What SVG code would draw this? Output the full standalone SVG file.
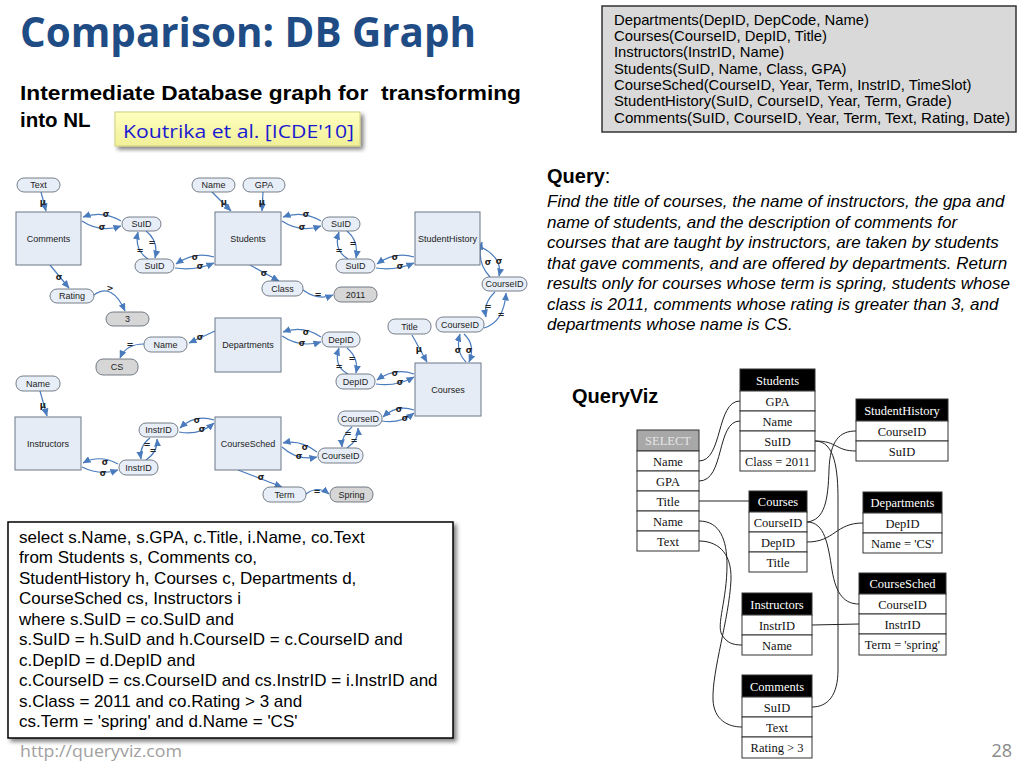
<svg xmlns="http://www.w3.org/2000/svg" width="1024" height="768" viewBox="0 0 1024 768">
<defs>
<marker id="ar" markerUnits="userSpaceOnUse" markerWidth="8" markerHeight="7" refX="7.5" refY="3.5" orient="auto"><path d="M0,0 L8,3.5 L0,7 z" fill="#4a7bbd"/></marker>
<filter id="sh" x="-10%" y="-10%" width="130%" height="130%"><feGaussianBlur in="SourceAlpha" stdDeviation="2"/><feOffset dx="3" dy="3"/><feComponentTransfer><feFuncA type="linear" slope="0.5"/></feComponentTransfer><feMerge><feMergeNode/><feMergeNode in="SourceGraphic"/></feMerge></filter>
<linearGradient id="yg" x1="0" y1="0" x2="0" y2="1"><stop offset="0" stop-color="#ffffc0"/><stop offset="1" stop-color="#f0f098"/></linearGradient>
<style>
.box{fill:#e5ecf6;stroke:#6b7787;stroke-width:1}
.pill{fill:#e8eef7;stroke:#55606c;stroke-width:0.8}
.gp{fill:#d6d6d6;stroke:#55606c;stroke-width:0.8}
.nt{font-family:"Liberation Sans",Arial,sans-serif;font-size:9px;fill:#222;text-anchor:middle}
.e{fill:none;stroke:#4a7bbd;stroke-width:1.2;marker-end:url(#ar)}
.lb{font-family:"DejaVu Sans","Liberation Sans",sans-serif;font-size:8.5px;font-weight:bold;fill:#222;text-anchor:middle}
.tb{fill:#fff;stroke:#333;stroke-width:1}
.th{fill:#000;stroke:#333;stroke-width:1}
.tt{font-family:"Liberation Serif","Times New Roman",serif;font-size:12.5px;fill:#111;text-anchor:middle}
.tw{font-family:"Liberation Serif","Times New Roman",serif;font-size:12.5px;fill:#fff;text-anchor:middle}
.qc{fill:none;stroke:#222;stroke-width:1}
.sans{font-family:"Liberation Sans",Arial,sans-serif}
</style>
</defs>
<rect width="1024" height="768" fill="#fff"/>

<g id="header">
<text x="20" y="47" font-family="Open Sans, Lato, sans-serif" font-weight="bold" font-size="42" fill="#1f4c85" textLength="456" lengthAdjust="spacingAndGlyphs">Comparison: DB Graph</text>
<text x="20" y="100" class="sans" font-weight="bold" font-size="20.5" fill="#000" textLength="501" lengthAdjust="spacingAndGlyphs" xml:space="preserve">Intermediate Database graph for  transforming</text>
<text x="20" y="127" class="sans" font-weight="bold" font-size="20.5" fill="#000">into NL</text>
</g>
<g id="citation">
<rect x="115" y="112" width="245" height="34" fill="url(#yg)" stroke="#d0d080" stroke-width="1" filter="url(#sh)"/>
<text x="123" y="138" font-family="Open Sans, Lato, sans-serif" font-size="19" fill="#1a1ad0" textLength="231" lengthAdjust="spacingAndGlyphs">Koutrika et al. [ICDE'10]</text>
</g>

<g id="schema">
<rect x="602" y="6" width="414" height="126" fill="#d9d9d9" stroke="#333" stroke-width="1.5"/>
<g class="sans" font-size="14.8" fill="#000">
<text x="614" y="25">Departments(DepID, DepCode, Name)</text>
<text x="614" y="41">Courses(CourseID, DepID, Title)</text>
<text x="614" y="57">Instructors(InstrID, Name)</text>
<text x="614" y="74">Students(SuID, Name, Class, GPA)</text>
<text x="614" y="90">CourseSched(CourseID, Year, Term, InstrID, TimeSlot)</text>
<text x="614" y="106">StudentHistory(SuID, CourseID, Year, Term, Grade)</text>
<text x="614" y="123" textLength="396" lengthAdjust="spacingAndGlyphs">Comments(SuID, CourseID, Year, Term, Text, Rating, Date)</text>
</g>
</g>

<g id="query">
<text x="547" y="183" class="sans" font-size="20" fill="#000"><tspan font-weight="bold">Query</tspan>:</text>
<g class="sans" font-size="17" font-style="italic" fill="#000">
<text x="547" y="207">Find the title of courses, the name of instructors, the gpa and</text>
<text x="547" y="228">name of students, and the description of comments for</text>
<text x="547" y="248">courses that are taught by instructors, are taken by students</text>
<text x="547" y="269">that gave comments, and are offered by departments. Return</text>
<text x="547" y="289">results only for courses whose term is spring, students whose</text>
<text x="547" y="310">class is 2011, comments whose rating is greater than 3, and</text>
<text x="547" y="330">departments whose name is CS.</text>
</g>
</g>

<!-- DB graph connectors -->
<g id="db-edges">
<path class="e" d="M41,192 L46,211"/>
<path class="e" d="M212,192 L231,211"/>
<path class="e" d="M263,192 L262,211"/>
<path class="e" d="M121,221 Q103,210 83,217"/>
<path class="e" d="M82,221 Q100,233 121,226"/>
<path class="e" d="M148,259 Q134,250 138,232"/>
<path class="e" d="M146,231 Q159,241 155,258"/>
<path class="e" d="M214,257 Q195,251 176,264"/>
<path class="e" d="M175,268 Q195,271 214,263"/>
<path class="e" d="M321,221 Q303,210 283,217"/>
<path class="e" d="M282,221 Q300,233 321,226"/>
<path class="e" d="M348,259 Q333,250 339,232"/>
<path class="e" d="M347,231 Q359,241 356,258"/>
<path class="e" d="M414,257 Q395,251 377,264"/>
<path class="e" d="M376,268 Q395,271 414,263"/>
<path class="e" d="M250,265 L279,281"/>
<path class="e" d="M303,290 Q318,301 333,295"/>
<path class="e" d="M50,265 L69,288"/>
<path class="e" d="M94,295 Q112,282 125,311"/>
<path class="e" d="M490,277 Q476,262 482,242"/>
<path class="e" d="M481,247 Q503,258 499,276"/>
<path class="e" d="M495,292 Q483,303 486,317"/>
<path class="e" d="M484,328 Q504,322 506,293"/>
<path class="e" d="M412,335 L427,362"/>
<path class="e" d="M466,362 Q455,351 460,334"/>
<path class="e" d="M464,334 Q476,345 469,362"/>
<path class="e" d="M321,337 Q303,325 283,332"/>
<path class="e" d="M282,336 Q300,348 321,342"/>
<path class="e" d="M348,374 Q333,366 339,348"/>
<path class="e" d="M347,348 Q359,358 356,373"/>
<path class="e" d="M414,374 Q395,367 377,380"/>
<path class="e" d="M376,384 Q396,387 414,377"/>
<path class="e" d="M215,331 L189,343"/>
<path class="e" d="M144,344 Q126,344 120,358"/>
<path class="e" d="M40,391 L47,416"/>
<path class="e" d="M414,410 Q397,404 383,417"/>
<path class="e" d="M382,421 Q400,424 414,413"/>
<path class="e" d="M352,427 Q341,436 342,447"/>
<path class="e" d="M347,448 Q359,440 358,428"/>
<path class="e" d="M317,452 Q300,439 283,443"/>
<path class="e" d="M282,447 Q297,461 317,457"/>
<path class="e" d="M238,470 L282,487"/>
<path class="e" d="M306,494 Q318,485 329,494"/>
<path class="e" d="M118,464 Q100,454 83,463"/>
<path class="e" d="M82,467 Q100,476 118,470"/>
<path class="e" d="M150,438 Q139,446 141,459"/>
<path class="e" d="M146,460 Q158,452 157,439"/>
<path class="e" d="M214,420 Q195,414 180,428"/>
<path class="e" d="M179,432 Q199,436 214,423"/>
</g>
<g id="db-edge-labels">
<text class="lb" x="43" y="205">μ</text>
<text class="lb" x="224" y="205">μ</text>
<text class="lb" x="262" y="205">μ</text>
<text class="lb" x="106" y="217">σ</text>
<text class="lb" x="102" y="230">σ</text>
<text class="lb" x="140" y="253">=</text>
<text class="lb" x="152" y="245">=</text>
<text class="lb" x="195" y="260">σ</text>
<text class="lb" x="200" y="269">σ</text>
<text class="lb" x="306" y="217">σ</text>
<text class="lb" x="302" y="230">σ</text>
<text class="lb" x="339" y="253">=</text>
<text class="lb" x="353" y="246">=</text>
<text class="lb" x="395" y="260">σ</text>
<text class="lb" x="400" y="269">σ</text>
<text class="lb" x="264" y="276">σ</text>
<text class="lb" x="318" y="297">=</text>
<text class="lb" x="59" y="280">σ</text>
<text class="lb" x="110" y="291">&gt;</text>
<text class="lb" x="488" y="265">σ</text>
<text class="lb" x="499" y="264">σ</text>
<text class="lb" x="488" y="309">=</text>
<text class="lb" x="501" y="317">=</text>
<text class="lb" x="419" y="352">μ</text>
<text class="lb" x="458" y="353">σ</text>
<text class="lb" x="469" y="353">σ</text>
<text class="lb" x="306" y="335">σ</text>
<text class="lb" x="302" y="346">σ</text>
<text class="lb" x="339" y="369">=</text>
<text class="lb" x="352" y="361">=</text>
<text class="lb" x="395" y="376">σ</text>
<text class="lb" x="400" y="385">σ</text>
<text class="lb" x="200" y="340">σ</text>
<text class="lb" x="130" y="347">=</text>
<text class="lb" x="43" y="408">μ</text>
<text class="lb" x="399" y="412">σ</text>
<text class="lb" x="405" y="421">σ</text>
<text class="lb" x="348" y="436">=</text>
<text class="lb" x="354" y="443">=</text>
<text class="lb" x="305" y="450">σ</text>
<text class="lb" x="299" y="459">σ</text>
<text class="lb" x="261" y="480">σ</text>
<text class="lb" x="317" y="494">=</text>
<text class="lb" x="105" y="465">σ</text>
<text class="lb" x="103" y="476">σ</text>
<text class="lb" x="147" y="447">=</text>
<text class="lb" x="153" y="453">=</text>
<text class="lb" x="197" y="423">σ</text>
<text class="lb" x="202" y="432">σ</text>
</g>

<!-- DB graph nodes -->
<g id="n-comments"><rect class="box" x="16" y="212" width="65" height="53"/><text class="nt" x="48.5" y="241.5">Comments</text></g>
<g id="n-students"><rect class="box" x="215" y="212" width="66" height="53"/><text class="nt" x="248" y="241.5">Students</text></g>
<g id="n-studenthistory"><rect class="box" x="415" y="212" width="65" height="53"/><text class="nt" x="447.5" y="241.5" font-size="8.5">StudentHistory</text></g>
<g id="n-departments"><rect class="box" x="215" y="318" width="66" height="54"/><text class="nt" x="248" y="348" font-size="8.5">Departments</text></g>
<g id="n-courses"><rect class="box" x="415" y="363" width="66" height="53"/><text class="nt" x="448" y="392.5">Courses</text></g>
<g id="n-instructors"><rect class="box" x="15" y="417" width="66" height="53"/><text class="nt" x="48" y="446.5">Instructors</text></g>
<g id="n-coursesched"><rect class="box" x="215" y="417" width="66" height="53"/><text class="nt" x="248" y="446.5" font-size="8.5">CourseSched</text></g>

<g id="p-text"><rect class="pill" x="17" y="178" width="43" height="14" rx="7"/><text class="nt" x="38.5" y="188">Text</text></g>
<g id="p-name-s"><rect class="pill" x="192" y="178" width="43" height="14" rx="7"/><text class="nt" x="213.5" y="188">Name</text></g>
<g id="p-gpa"><rect class="pill" x="243" y="178" width="42" height="14" rx="7"/><text class="nt" x="264" y="188">GPA</text></g>
<g id="p-suid1"><rect class="pill" x="122" y="217" width="39" height="14" rx="7"/><text class="nt" x="141.5" y="227">SuID</text></g>
<g id="p-suid2"><rect class="pill" x="135" y="259" width="39" height="14" rx="7"/><text class="nt" x="154.5" y="269">SuID</text></g>
<g id="p-suid3"><rect class="pill" x="322" y="217" width="38" height="14" rx="7"/><text class="nt" x="341" y="227">SuID</text></g>
<g id="p-suid4"><rect class="pill" x="336" y="259" width="39" height="14" rx="7"/><text class="nt" x="355.5" y="269">SuID</text></g>
<g id="p-class"><rect class="pill" x="262" y="281" width="41" height="15" rx="7"/><text class="nt" x="282.5" y="291.5">Class</text></g>
<g id="p-2011"><rect class="gp" x="334" y="287" width="43" height="15" rx="7"/><text class="nt" x="355.5" y="297.5">2011</text></g>
<g id="p-rating"><rect class="pill" x="50" y="289" width="44" height="14" rx="7"/><text class="nt" x="72" y="299">Rating</text></g>
<g id="p-3"><rect class="gp" x="106" y="312" width="43" height="14" rx="7"/><text class="nt" x="127.5" y="322">3</text></g>
<g id="p-courseid-r"><rect class="pill" x="482" y="277" width="45" height="14" rx="7"/><text class="nt" x="504.5" y="287" font-size="8.5">CourseID</text></g>
<g id="p-title"><rect class="pill" x="388" y="319" width="43" height="15" rx="7"/><text class="nt" x="409.5" y="329.5">Title</text></g>
<g id="p-courseid-u"><rect class="pill" x="436" y="317" width="48" height="15" rx="7"/><text class="nt" x="460" y="327.5" font-size="8.5">CourseID</text></g>
<g id="p-depid1"><rect class="pill" x="322" y="332" width="38" height="15" rx="7"/><text class="nt" x="341" y="342.5">DepID</text></g>
<g id="p-depid2"><rect class="pill" x="336" y="374" width="39" height="15" rx="7"/><text class="nt" x="355.5" y="384.5">DepID</text></g>
<g id="p-name-d"><rect class="pill" x="144" y="337" width="43" height="15" rx="7"/><text class="nt" x="165.5" y="347.5">Name</text></g>
<g id="p-cs"><rect class="gp" x="96" y="359" width="42" height="16" rx="7"/><text class="nt" x="117" y="370">CS</text></g>
<g id="p-name-i"><rect class="pill" x="16" y="376" width="44" height="15" rx="7"/><text class="nt" x="38" y="386.5">Name</text></g>
<g id="p-instrid1"><rect class="pill" x="139" y="423" width="39" height="14" rx="7"/><text class="nt" x="158.5" y="433">InstrID</text></g>
<g id="p-instrid2"><rect class="pill" x="119" y="460" width="39" height="15" rx="7"/><text class="nt" x="138.5" y="470.5">InstrID</text></g>
<g id="p-courseid-m"><rect class="pill" x="338" y="411" width="44" height="15" rx="7"/><text class="nt" x="360" y="421.5" font-size="8.5">CourseID</text></g>
<g id="p-courseid-l"><rect class="pill" x="318" y="448" width="45" height="15" rx="7"/><text class="nt" x="340.5" y="458.5" font-size="8.5">CourseID</text></g>
<g id="p-term"><rect class="pill" x="263" y="487" width="43" height="15" rx="7"/><text class="nt" x="284.5" y="497.5">Term</text></g>
<g id="p-spring"><rect class="gp" x="330" y="487" width="43" height="15" rx="7"/><text class="nt" x="351.5" y="497.5">Spring</text></g>

<g id="sql">
<rect x="8" y="522" width="445" height="216" fill="#fff" stroke="#000" stroke-width="1.5" filter="url(#sh)"/>
<g class="sans" font-size="17" fill="#000">
<text x="19" y="543">select s.Name, s.GPA, c.Title, i.Name, co.Text</text>
<text x="19" y="563">from Students s, Comments co,</text>
<text x="19" y="584">StudentHistory h, Courses c, Departments d,</text>
<text x="19" y="604">CourseSched cs, Instructors i</text>
<text x="19" y="625">where s.SuID = co.SuID and</text>
<text x="19" y="645">s.SuID = h.SuID and h.CourseID = c.CourseID and</text>
<text x="19" y="666">c.DepID = d.DepID and</text>
<text x="19" y="686">c.CourseID = cs.CourseID and cs.InstrID = i.InstrID and</text>
<text x="19" y="707">s.Class = 2011 and co.Rating &gt; 3 and</text>
<text x="19" y="727">cs.Term = 'spring' and d.Name = 'CS'</text>
</g>
</g>

<g id="footer">
<text x="20" y="757" font-family="Open Sans, Lato, sans-serif" font-size="16" fill="#a0a0a0" textLength="162" lengthAdjust="spacingAndGlyphs">http://queryviz.com</text>
<text x="1012" y="757" text-anchor="end" font-family="Open Sans, Lato, sans-serif" font-size="18" fill="#8a8a8a">28</text>
</g>

<text id="queryviz-title" x="572" y="403" class="sans" font-weight="bold" font-size="20" fill="#000">QueryViz</text>

<!-- QueryViz connectors -->
<g id="qv-edges">
<path class="qc" d="M699,461 C723,461 716,401 740,401"/>
<path class="qc" d="M699,481 C725,481 716,421 740,421"/>
<path class="qc" d="M699,501 L749,501"/>
<path class="qc" d="M699,521 C720,521 727,540 727,565 C727,600 716,625 722,635 C727,643 733,645 742,645"/>
<path class="qc" d="M699,541 C715,541 732,550 731,580 C729,620 712,670 713,700 C714,720 728,727 742,727"/>
<path class="qc" d="M815,441 C838,441 835,451 856,451"/>
<path class="qc" d="M815,441 C835,441 838,470 838,500 L838,670 C838,695 828,707 812,707"/>
<path class="qc" d="M807,522 C825,520 828,500 829,470 C830,440 840,431 856,431"/>
<path class="qc" d="M807,522 C825,522 828,545 832,570 C836,595 845,604 859,604"/>
<path class="qc" d="M807,542 C835,542 835,523 863,523"/>
<path class="qc" d="M812,625 L859,624"/>
</g>

<g id="t-select">
<rect x="637" y="430" width="62" height="21" fill="#a8a8a8" stroke="#333"/>
<text class="tw" x="668" y="445" style="fill:#e6e6e6">SELECT</text>
<rect class="tb" x="637" y="451" width="62" height="20"/><text class="tt" x="668" y="465.5">Name</text>
<rect class="tb" x="637" y="471" width="62" height="20"/><text class="tt" x="668" y="485.5">GPA</text>
<rect class="tb" x="637" y="491" width="62" height="20"/><text class="tt" x="668" y="505.5">Title</text>
<rect class="tb" x="637" y="511" width="62" height="20"/><text class="tt" x="668" y="525.5">Name</text>
<rect class="tb" x="637" y="531" width="62" height="20"/><text class="tt" x="668" y="545.5">Text</text>
</g>
<g id="t-students">
<rect class="th" x="740" y="369" width="75" height="22"/><text class="tw" x="777.5" y="384.5">Students</text>
<rect class="tb" x="740" y="391" width="75" height="20"/><text class="tt" x="777.5" y="405.5">GPA</text>
<rect class="tb" x="740" y="411" width="75" height="20"/><text class="tt" x="777.5" y="425.5">Name</text>
<rect class="tb" x="740" y="431" width="75" height="20"/><text class="tt" x="777.5" y="445.5">SuID</text>
<rect class="tb" x="740" y="451" width="75" height="20"/><text class="tt" x="777.5" y="465.5">Class = 2011</text>
</g>
<g id="t-studenthistory">
<rect class="th" x="856" y="399" width="92" height="22"/><text class="tw" x="902" y="414.5">StudentHistory</text>
<rect class="tb" x="856" y="421" width="92" height="20"/><text class="tt" x="902" y="435.5">CourseID</text>
<rect class="tb" x="856" y="441" width="92" height="20"/><text class="tt" x="902" y="455.5">SuID</text>
</g>
<g id="t-courses">
<rect class="th" x="749" y="491" width="58" height="21"/><text class="tw" x="778" y="506">Courses</text>
<rect class="tb" x="749" y="512" width="58" height="20"/><text class="tt" x="778" y="526.5">CourseID</text>
<rect class="tb" x="749" y="532" width="58" height="20"/><text class="tt" x="778" y="546.5">DepID</text>
<rect class="tb" x="749" y="552" width="58" height="20"/><text class="tt" x="778" y="566.5">Title</text>
</g>
<g id="t-departments">
<rect class="th" x="863" y="492" width="79" height="21"/><text class="tw" x="902.5" y="507">Departments</text>
<rect class="tb" x="863" y="513" width="79" height="20"/><text class="tt" x="902.5" y="527.5">DepID</text>
<rect class="tb" x="863" y="533" width="79" height="20"/><text class="tt" x="902.5" y="547.5">Name = 'CS'</text>
</g>
<g id="t-coursesched">
<rect class="th" x="859" y="573" width="87" height="21"/><text class="tw" x="902.5" y="588">CourseSched</text>
<rect class="tb" x="859" y="594" width="87" height="20"/><text class="tt" x="902.5" y="608.5">CourseID</text>
<rect class="tb" x="859" y="614" width="87" height="20"/><text class="tt" x="902.5" y="628.5">InstrID</text>
<rect class="tb" x="859" y="634" width="87" height="21"/><text class="tt" x="902.5" y="649">Term = 'spring'</text>
</g>
<g id="t-instructors">
<rect class="th" x="742" y="593" width="70" height="22"/><text class="tw" x="777" y="608.5">Instructors</text>
<rect class="tb" x="742" y="615" width="70" height="20"/><text class="tt" x="777" y="629.5">InstrID</text>
<rect class="tb" x="742" y="635" width="70" height="20"/><text class="tt" x="777" y="649.5">Name</text>
</g>
<g id="t-comments">
<rect class="th" x="742" y="675" width="70" height="22"/><text class="tw" x="777" y="690.5">Comments</text>
<rect class="tb" x="742" y="697" width="70" height="20"/><text class="tt" x="777" y="711.5">SuID</text>
<rect class="tb" x="742" y="717" width="70" height="20"/><text class="tt" x="777" y="731.5">Text</text>
<rect class="tb" x="742" y="737" width="70" height="21"/><text class="tt" x="777" y="752">Rating &gt; 3</text>
</g>
</svg>
